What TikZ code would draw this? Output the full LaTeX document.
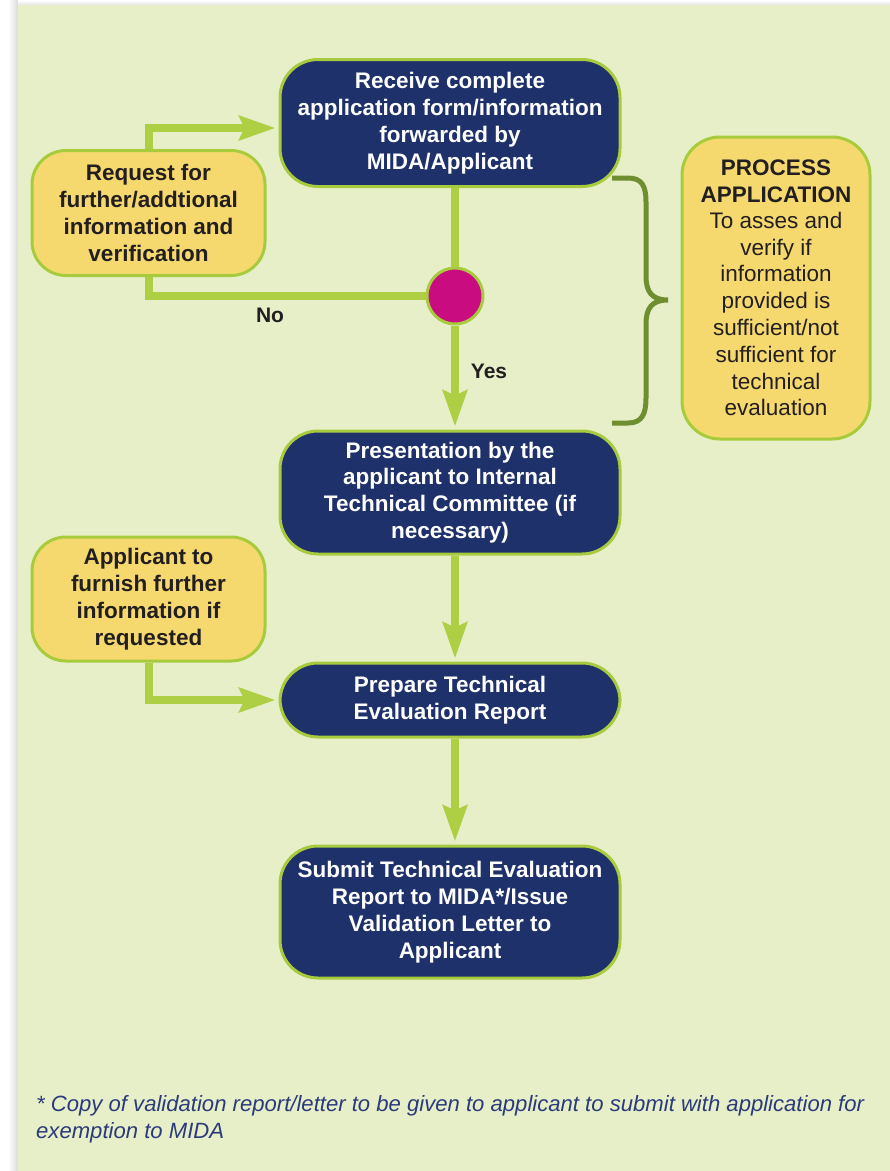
\documentclass[tikz,border=0pt]{standalone}
\usepackage{fontspec}
\setmainfont{Liberation Sans}
\usetikzlibrary{arrows.meta}
\definecolor{pagebg}{HTML}{E7EFC9}
\definecolor{navy}{HTML}{1E316B}
\definecolor{sun}{HTML}{F6D96E}
\definecolor{leaf}{HTML}{AECF44}
\definecolor{rim}{HTML}{A8CB3E}
\definecolor{berry}{HTML}{C90C80}
\definecolor{olive}{HTML}{6F8E2F}
\definecolor{ink}{HTML}{231F20}
\definecolor{noteink}{HTML}{2B3A7A}
\tikzset{
  boxfont/.style={font=\fontsize{22.5}{26.8}\selectfont\bfseries},
  stepbox/.style={boxfont, draw=rim, line width=3pt, fill=navy, text=white,
    rounded corners=38pt, align=center, minimum width=340pt, inner sep=0pt},
  notebox/.style={boxfont, draw=rim, line width=3pt, fill=sun, text=ink,
    rounded corners=34pt, align=center, minimum width=233pt, inner sep=0pt},
  decision/.style={circle, draw=rim, line width=3pt, fill=berry,
    minimum size=56pt, inner sep=0pt},
  conn/.style={draw=leaf, line width=8pt},
  flow/.style={conn, -{Stealth[length=36pt, width=24pt, inset=5pt]}, shorten >=3pt},
  brace/.style={draw=olive, line width=5pt},
  lbl/.style={font=\fontsize{21}{25}\selectfont\bfseries, text=ink}
}
\begin{document}
\begin{tikzpicture}[x=1pt, y=-1pt]
\useasboundingbox (0,0) rectangle (890,1171);
% page with a soft shadow at its left and top edges
\fill[white] (0,0) rectangle (890,1171);
\shade[left color=white, right color=black!14] (8,0) rectangle (18,1171);
\shade[top color=white, bottom color=black!10] (18,0) rectangle (890,5);
\fill[pagebg] (18,5) rectangle (890,1171);

% process steps
\node[stepbox, minimum height=127pt] (recv) at (450,123)
  {Receive complete\\application form/information\\forwarded by\\MIDA/Applicant};
\node[stepbox, minimum height=123pt] (pres) at (450,492.5)
  {Presentation by the\\applicant to Internal\\Technical Committee (if\\necessary)};
\node[stepbox, minimum height=74pt] (prep) at (450,700)
  {Prepare Technical\\Evaluation Report};
\node[stepbox, minimum height=132pt] (subm) at (450,912)
  {Submit Technical Evaluation\\Report to MIDA*/Issue\\Validation Letter to\\Applicant};

% side notes
\node[notebox, minimum height=125pt] (req) at (148.5,213)
  {Request for\\further/addtional\\information and\\verification};
\node[notebox, minimum height=124pt] (furn) at (148.5,599)
  {Applicant to\\furnish further\\information if\\requested};
\node[notebox, minimum width=188pt, minimum height=302pt, rounded corners=38pt] (proc) at (776,288)
  {PROCESS\\APPLICATION\\[-1pt]{\mdseries To asses and}\\{\mdseries verify if}\\{\mdseries information}\\{\mdseries provided is}\\{\mdseries sufficient/not}\\{\mdseries sufficient for}\\{\mdseries technical}\\{\mdseries evaluation}};

% decision point
\node[decision] (dec) at (455,296) {};

% connectors
\coordinate (loopy) at (0,128);
\draw[conn] (recv.south -| dec) -- (dec.north);
\draw[conn] (dec.west) -| (req.south);
\draw[flow] (req.north) |- (recv.west |- loopy);
\draw[flow] (dec.south) -- (dec |- pres.north);
\draw[flow] (pres.south -| dec) -- (dec |- prep.north);
\draw[flow] (furn.south) |- (prep.west);
\draw[flow] (prep.south -| dec) -- (dec |- subm.north);

\node[lbl] (no) at (270,315) {No};
\node[lbl] (yes) at (489,371) {Yes};

% brace grouping the checking stage
\draw[brace] (612,178) -- (628,178)
  .. controls (642,178) and (646,186) .. (646,202) -- (646,276)
  .. controls (646,292) and (652,300) .. (668,300)
  .. controls (652,300) and (646,308) .. (646,324) -- (646,398)
  .. controls (646,414) and (642,423) .. (628,423) -- (612,423);

% footnote
\node[anchor=north west, inner sep=0pt, align=left, text=noteink,
  font=\fontsize{22.1}{27}\selectfont\itshape] (note) at (36,1095)
  {* Copy of validation report/letter to be given to applicant to submit with application for\\exemption to MIDA};
\end{tikzpicture}
\end{document}
